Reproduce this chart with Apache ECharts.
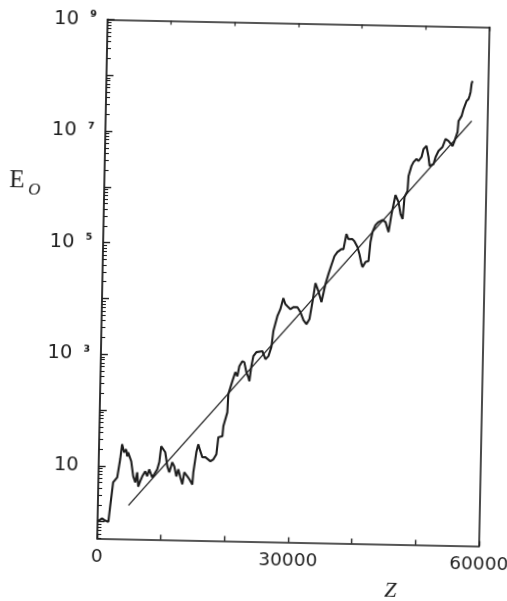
<!DOCTYPE html>
<html>
<head>
<meta charset="utf-8">
<script src="https://cdn.jsdelivr.net/npm/echarts@6/dist/echarts.min.js"></script>
<style>
  html, body { margin: 0; padding: 0; background: #fff; overflow: hidden; width: 507px; height: 601px; }
  #chart { position: absolute; left: -20px; top: -20px; width: 547px; height: 641px;
           transform: rotate(1.15deg); transform-origin: 273.5px 320.5px; }
</style>
</head>
<body>
<div id="chart"></div>
<script>
// Measured curve: depth z and energy E_O
const zValues = [
  0, 700, 1200, 1700, 1940, 2330, 2950, 3360, 3620, 3960, 4270, 4450, 4590, 5100, 5460, 5800,
  6080, 6280, 6580, 6880, 7330, 7660, 7950, 8450, 8760, 9210, 9510, 9770, 10080, 10420, 10780,
  11110, 11550, 11880, 12230, 12520, 12860, 13200, 13470, 13960, 14290, 14770, 14890, 15300,
  15580, 15920, 16260, 16730, 17530, 18000, 18450, 18710, 19340, 19460, 20040, 20140, 20730,
  21170, 21500, 21780, 22230, 22550, 22900, 23230, 23400, 23670, 23950, 24410, 24720, 25350,
  25850, 26310, 26750, 27010, 27590, 28040, 28480, 28810, 29130, 29620, 30080, 30710, 31200,
  31700, 32180, 32640, 33060, 33470, 33780, 33960, 34470, 34760, 35040, 35480, 35920, 36370,
  36820, 36990, 37440, 37760, 38180, 38510, 39140, 39460, 39960, 40290, 40640, 40810, 41260,
  41730, 41980, 42270, 42710, 43180, 43800, 44280, 44790, 45200, 45760, 46260, 46610, 46950,
  47190, 47640, 47750, 48180, 48490, 48950, 49270, 49730, 50020, 50480, 50830, 51020, 51330,
  51640, 51930, 52380, 53000, 53450, 53930, 54570, 54870, 55310, 55430, 55890, 56180, 56630,
  56930, 57080, 57230, 57360, 57500
];
const eValues = [
  1.0, 1.15, 1.05, 1.0, 1.9, 5.1, 6.3, 13.3, 24.8, 17.8, 20.2, 15.1, 17.9, 12.4, 6.7, 5.2,
  7.9, 4.4, 5.5, 6.7, 8.3, 6.8, 9.0, 6.5, 7.4, 9.1, 12.2, 23.6, 23.6, 18.5, 10.4,
  8.1, 12.3, 10.4, 6.9, 9.3, 6.7, 5.0, 8.2, 7.0, 6.2, 5.0, 8.3, 19.0,
  26.4, 19.9, 15.5, 15.6, 13.2, 14.4, 17.8, 35.9, 37.6, 56.8, 101, 214, 366,
  533, 453, 685, 844, 811, 538, 438, 372, 692, 1047, 1239, 1241, 1297,
  935, 1061, 1543, 2985, 5571, 7447, 11750, 9200, 8490, 7520, 8180, 8220, 6700,
  4820, 4100, 5060, 10230, 22440, 23400, 16200, 10300, 14960, 21700, 32900, 47900, 69500,
  82200, 75900, 93300, 93500, 174000, 142000, 142500, 131000, 102800, 77300, 51200, 45300, 55800,
  58300, 128000, 193600, 259000, 294000, 320000, 296000, 196000, 413000, 908000, 682000, 417000, 340000,
  843000, 1080000, 2010000, 3050000, 3600000, 4100000, 3770000, 4460000, 6200000, 7050000, 4490000, 3100000, 3100000,
  3370000, 4500000, 5800000, 6850000, 9550000, 8800000, 7200000, 8900000, 12900000, 20300000, 25000000, 33500000, 46700000,
  50800000, 57500000, 68000000, 95000000, 107000000
];
// Fitted straight line (end points)
const fitZ = [4800, 57500];
const fitE = [2.0, 2.06e7];
// Axis tick labels
const yLabelExponents = [1, 3, 5, 7, 9];
const xLabelValues = [0, 30000, 60000];

const OFF = 20; // canvas margin around the visible 507x601 window
const yMin = Math.log10(0.5);
const yMax = 9;
const majorTicks = [];
const minorTicks = [];
for (let n = 0; n <= 9; n++) majorTicks.push(n);
for (let n = -1; n <= 8; n++) {
  for (let k = 2; k <= 9; k++) {
    const v = Math.log10(k * Math.pow(10, n));
    if (v >= yMin - 1e-9 && v <= yMax) minorTicks.push(v);
  }
}

const ink = '#1e1e1e';
const curve = zValues.map((z, i) => [z, Math.log10(eValues[i])]);
const fit = fitZ.map((z, i) => [z, Math.log10(fitE[i])]);

const chart = echarts.init(document.getElementById('chart'), null, { renderer: 'canvas' });
chart.setOption({
  backgroundColor: '#fff',
  animation: false,
  grid: { left: 102 + OFF, top: 22.5 + OFF, width: 382, height: 519, outerBoundsMode: 'none', show: false },
  xAxis: [
    {
      type: 'value', position: 'bottom', min: 0, max: 60000, interval: 10000,
      axisLine: { show: true, onZero: false, lineStyle: { color: ink, width: 1.6 } },
      axisTick: { show: true, inside: true, length: 5, lineStyle: { color: ink, width: 1.4 } },
      axisLabel: {
        margin: 9, color: '#222', fontFamily: 'DejaVu Sans', fontSize: 18.5,
        formatter: v => (xLabelValues.indexOf(v) >= 0 ? String(v) : '')
      },
      splitLine: { show: false }
    },
    {
      type: 'value', position: 'top', min: 0, max: 60000, interval: 10000,
      axisLine: { show: true, onZero: false, lineStyle: { color: ink, width: 1.6 } },
      axisTick: { show: true, inside: true, length: 4, lineStyle: { color: ink, width: 1.2 } },
      axisLabel: { show: false },
      splitLine: { show: false }
    }
  ],
  yAxis: [
    {
      type: 'value', position: 'left', min: yMin, max: yMax,
      axisLine: { show: true, onZero: false, lineStyle: { color: ink, width: 1.8 } },
      axisTick: { show: true, inside: true, length: 7, customValues: majorTicks, lineStyle: { color: ink, width: 1.4 } },
      axisLabel: {
        show: true, margin: 11, customValues: yLabelExponents,
        formatter: v => {
          const e = Math.round(v);
          if (e === 1) return '{b|10}{s2| }';
          return '{b|10}{s| }{e|' + e + '}';
        },
        rich: {
          b: { fontFamily: 'DejaVu Sans', fontSize: 19.5, color: '#222', lineHeight: 20 },
          s: { width: 11, fontSize: 10 },
          s2: { width: 9, fontSize: 10 },
          e: { fontFamily: 'DejaVu Sans', fontSize: 9.5, fontWeight: 'bold', color: '#111', lineHeight: 16, verticalAlign: 'top' }
        }
      },
      splitLine: { show: false }
    },
    {
      type: 'value', position: 'left', min: yMin, max: yMax,
      axisLine: { show: false, onZero: false },
      axisTick: { show: true, inside: true, length: 4, customValues: minorTicks, lineStyle: { color: ink, width: 1.1 } },
      axisLabel: { show: false },
      splitLine: { show: false }
    },
    {
      type: 'value', position: 'right', min: yMin, max: yMax,
      axisLine: { show: true, onZero: false, lineStyle: { color: ink, width: 1.6 } },
      axisTick: { show: false },
      axisLabel: { show: false },
      splitLine: { show: false }
    }
  ],
  graphic: [
    { type: 'text', left: 7 + OFF, top: 173 + OFF, style: { text: 'E', font: '25px "Liberation Serif"', fill: '#222' } },
    { type: 'text', left: 26 + OFF, top: 186 + OFF, style: { text: 'O', font: 'italic 17px "Liberation Serif"', fill: '#222' } },
    { type: 'text', left: 390 + OFF, top: 577 + OFF, style: { text: 'Z', font: 'italic 22px "Liberation Serif"', fill: '#222' } }
  ],
  series: [
    {
      type: 'line', xAxisIndex: 0, yAxisIndex: 0, data: curve,
      showSymbol: false, symbol: 'none', smooth: false,
      lineStyle: { color: ink, width: 2.1 }, z: 3
    },
    {
      type: 'line', xAxisIndex: 0, yAxisIndex: 0, data: fit,
      showSymbol: false, symbol: 'none',
      lineStyle: { color: ink, width: 1.3 }, z: 2
    }
  ]
});
</script>
</body>
</html>
